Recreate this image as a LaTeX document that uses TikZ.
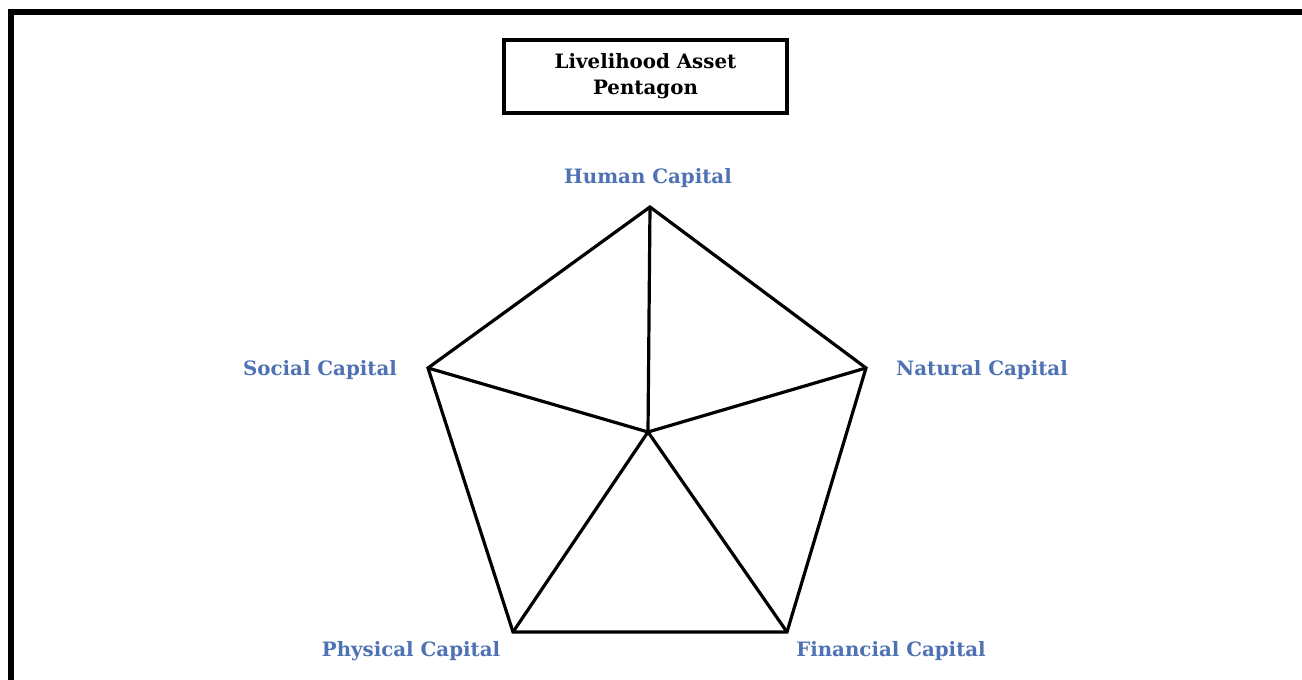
\documentclass[tikz,border=0pt]{standalone}
\usepackage{fontspec}
\setmainfont{DejaVu Serif}
\definecolor{capblue}{RGB}{79,114,180}
\begin{document}
\begin{tikzpicture}[x=1pt,y=1pt,
  edge/.style={line width=3.2pt,line join=miter},
  caplabel/.style={font=\fontsize{19.8}{22}\selectfont\bfseries,text=capblue,inner sep=0pt},
  titlebox/.style={draw,line width=3.2pt,minimum width=283pt,minimum height=73pt,align=center,font=\fontsize{19.8}{26}\selectfont\bfseries,inner sep=0pt}]
\useasboundingbox (0,0) rectangle (1302,680);
\fill[white] (0,0) rectangle (1302,680);
% frame
\draw[line width=6pt] (1302,668) -- (11,668) -- (11,0);
% title
\node[titlebox] (title) at (645.5,603.5) {Livelihood Asset\\Pentagon};
% vertices
\coordinate (T) at (650,473);
\coordinate (N) at (866,312);
\coordinate (F) at (787,48);
\coordinate (P) at (513,48);
\coordinate (S) at (428,312);
\coordinate (C) at (648,248);
\draw[edge] (T) -- (N) -- (F) -- (P) -- (S) -- cycle;
\draw[edge] (C) -- (T);
\draw[edge] (C) -- (N);
\draw[edge] (C) -- (F);
\draw[edge] (C) -- (P);
\draw[edge] (C) -- (S);
% labels
\node[caplabel] (human) at (648,502) {Human Capital};
\node[caplabel] (social) at (320,310) {Social Capital};
\node[caplabel] (natural) at (982,310) {Natural Capital};
\node[caplabel] (physical) at (411,29) {Physical Capital};
\node[caplabel] (financial) at (891,29) {Financial Capital};
\end{tikzpicture}
\end{document}
